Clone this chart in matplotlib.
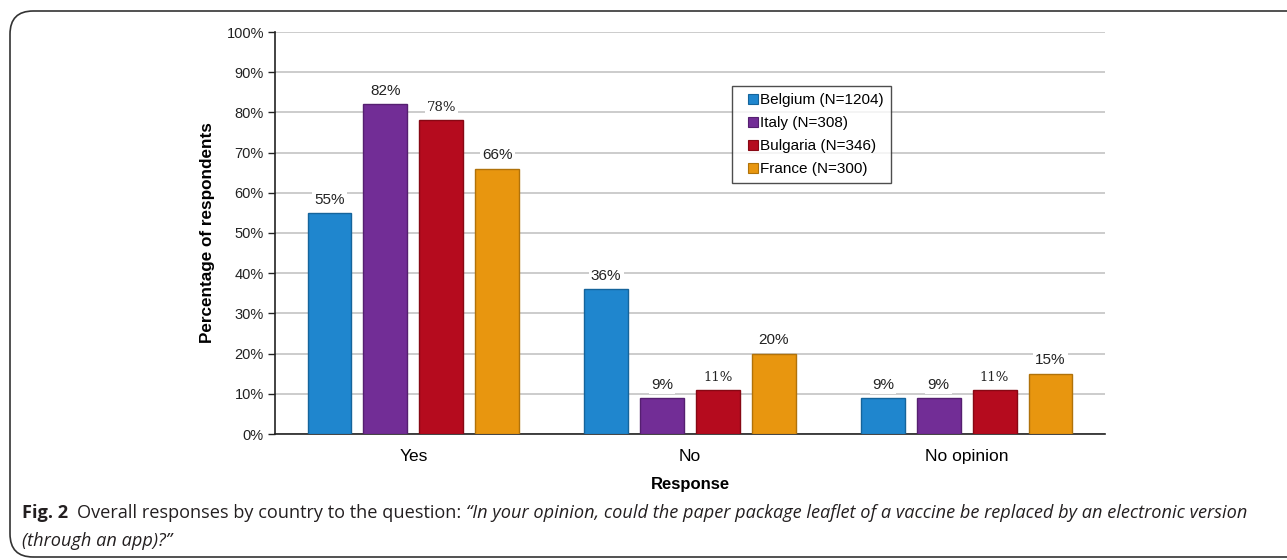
import matplotlib
matplotlib.use('Agg')
import matplotlib.pyplot as plt
import numpy as np
from matplotlib.lines import Line2D
from matplotlib.patches import FancyBboxPatch
from matplotlib.ticker import PercentFormatter

responses = ['Yes', 'No', 'No opinion']
countries = ['Belgium (N=1204)', 'Italy (N=308)', 'Bulgaria (N=346)', 'France (N=300)']
values = {
    'Belgium (N=1204)': [55, 36, 9],
    'Italy (N=308)': [82, 9, 9],
    'Bulgaria (N=346)': [78, 11, 11],
    'France (N=300)': [66, 20, 15],
}
colors = ['#1F86CE', '#722D96', '#B50B1E', '#E8960F']
edges = ['#15649B', '#551F70', '#870814', '#B0720A']

plt.rcParams['font.family'] = ['Liberation Sans', 'DejaVu Sans']

fig = plt.figure(figsize=(12.87, 5.6), dpi=100)
ax = fig.add_axes([275 / 1287, 126 / 560, 830 / 1287, 402 / 560])

x = np.arange(len(responses))
step, width = 0.202, 0.159
for i, c in enumerate(countries):
    pos = x + (i - 1.5) * step
    bars = ax.bar(pos, values[c], width, color=colors[i], edgecolor=edges[i],
                  linewidth=1, label=c, zorder=3)
    for b, v in zip(bars, values[c]):
        # Bulgaria's labels come out in a lighter serif face
        fam = ['DejaVu Serif'] if c.startswith('Bulgaria') else ['Liberation Sans']
        fs = 9.5 if c.startswith('Bulgaria') else 11
        ax.annotate(f'{v}%', (b.get_x() + b.get_width() / 2, v),
                    xytext=(0, 4.5), textcoords='offset points', ha='center', va='bottom',
                    fontsize=fs, family=fam, color='#222222', zorder=4,
                    bbox=dict(boxstyle='square,pad=0.15', fc='white', ec='none'))

ax.set_xlim(-0.5, 2.5)
ax.set_ylim(0, 100)
ax.set_yticks(np.arange(0, 101, 10))
ax.yaxis.set_major_formatter(PercentFormatter(decimals=0))
ax.set_xticks(x)
ax.set_xticklabels(responses, fontsize=12.5)
ax.tick_params(axis='x', length=0, pad=11)
ax.tick_params(axis='y', length=5, width=1, labelsize=10.5, pad=3, colors='#222222')
ax.grid(axis='y', color='#C8C8C8', linewidth=1.3, zorder=0)
ax.set_axisbelow(True)
for s in ['top', 'right']:
    ax.spines[s].set_visible(False)
for s in ['left', 'bottom']:
    ax.spines[s].set_linewidth(1.2)
    ax.spines[s].set_color('#222222')

ax.set_ylabel('Percentage of respondents', fontsize=12.3, fontweight='bold', labelpad=8)
ax.set_xlabel('Response', fontsize=12, fontweight='bold', labelpad=9)

# square markers as legend keys, set in from the frame edge
keys = [Line2D([], [], ls='none', marker='s', markersize=6.5, markerfacecolor=colors[i],
               markeredgecolor=edges[i], markeredgewidth=0.8) for i in range(len(countries))]
leg = ax.legend(keys, countries, loc='upper left',
                bbox_to_anchor=((732 - 275) / 830, (434 - 86) / 402),
                fontsize=11, frameon=True, fancybox=False, handlelength=1.8,
                handletextpad=-0.4, borderpad=0.45, labelspacing=0.6, borderaxespad=0)
leg.get_frame().set_edgecolor('#222222')
leg.get_frame().set_linewidth(1)

# rounded frame around the figure and caption
frame = FancyBboxPatch((10 / 1287, 3 / 560), 1.05, 546 / 560,
                       boxstyle='round,pad=0,rounding_size=0.018',
                       transform=fig.transFigure, fc='none', ec='#333333', lw=1.2,
                       mutation_aspect=1287 / 560)
fig.patches.append(frame)

cap_kw = dict(fontsize=13.1, family=['Open Sans', 'DejaVu Sans'], color='#231F20', va='baseline')
fig.canvas.draw()
r = fig.canvas.get_renderer()
t1 = fig.text(22 / 1287, 1 - 518 / 560, 'Fig. 2', fontweight='bold', **cap_kw)
ext = t1.get_window_extent(r)
t2 = fig.text((ext.x1 + 9) / 1287, 1 - 518 / 560, 'Overall responses by country to the question: ', **cap_kw)
ext = t2.get_window_extent(r)
fig.text(ext.x1 / 1287, 1 - 518 / 560,
         '\u201cIn your opinion, could the paper package leaflet of a vaccine be replaced by an electronic version',
         style='italic', **cap_kw)
fig.text(22 / 1287, 1 - 546 / 560, '(through an app)?\u201d', style='italic', **cap_kw)

fig.savefig('out.png', dpi=100)
